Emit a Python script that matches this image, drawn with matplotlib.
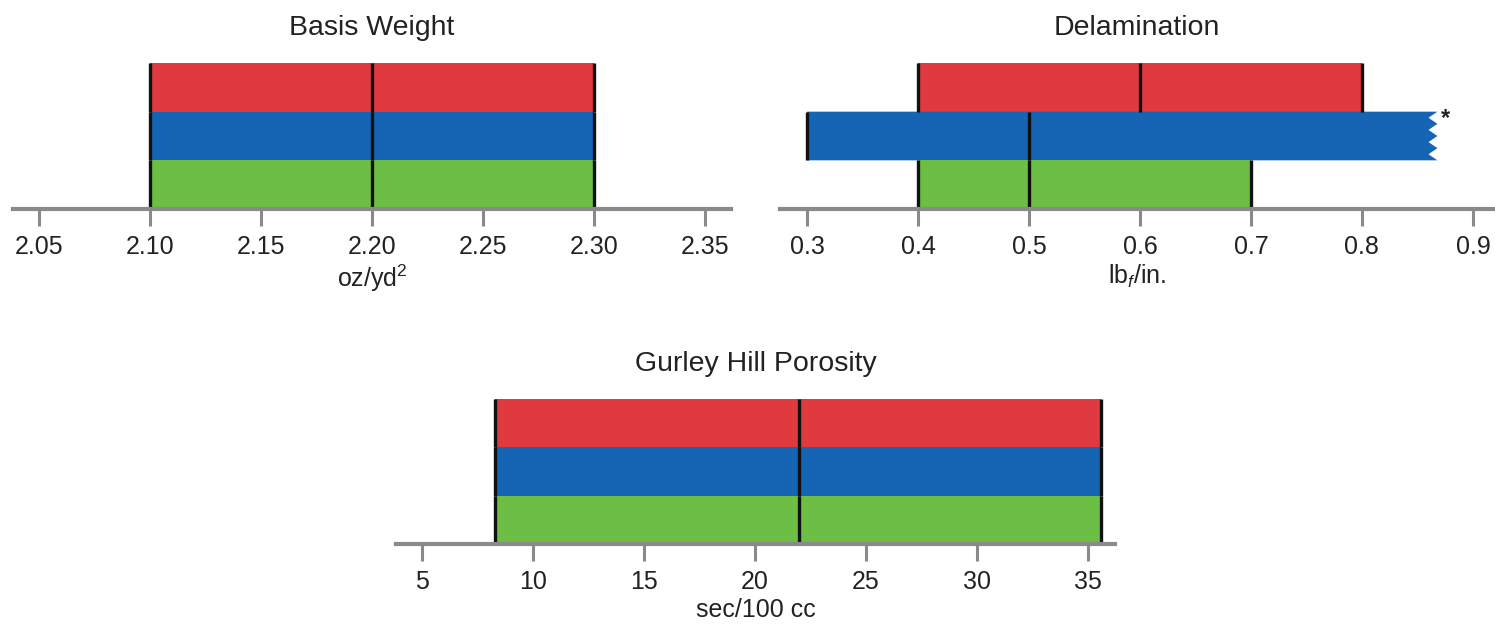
import matplotlib
matplotlib.use("Agg")
import matplotlib.pyplot as plt
from matplotlib.patches import Polygon

plt.rcParams['font.family'] = ['Liberation Sans', 'DejaVu Sans']
plt.rcParams['mathtext.fontset'] = 'custom'
plt.rcParams['mathtext.rm'] = 'Liberation Sans'
plt.rcParams['mathtext.it'] = 'Liberation Sans:italic'

# Series order from top band to bottom band
series_colors = ['#E03A40', '#1565B4', '#6CBF44']

# Basis Weight (oz/yd^2): min, median, max per series
basis_min = [2.10, 2.10, 2.10]
basis_med = [2.20, 2.20, 2.20]
basis_max = [2.30, 2.30, 2.30]
basis_ticks = [2.05, 2.10, 2.15, 2.20, 2.25, 2.30, 2.35]
basis_ticklabels = ['2.05', '2.10', '2.15', '2.20', '2.25', '2.30', '2.35']

# Delamination (lbf/in.); the middle series runs off the scale
delam_min = [0.4, 0.3, 0.4]
delam_med = [0.6, 0.5, 0.5]
delam_max = [0.8, 0.868, 0.7]
delam_cut = [False, True, False]
delam_ticks = [0.3, 0.4, 0.5, 0.6, 0.7, 0.8, 0.9]

# Gurley Hill Porosity (sec/100 cc)
gurley_min = [8.3, 8.3, 8.3]
gurley_med = [22.0, 22.0, 22.0]
gurley_max = [35.6, 35.6, 35.6]
gurley_ticks = [5, 10, 15, 20, 25, 30, 35]

W, H = 1495, 628
fig = plt.figure(figsize=(W / 100, H / 100), dpi=100)

SPINE = '#8a8a8a'
TEXT = '#222222'


def px_axes(x0, x1, ytop, ybot):
    return fig.add_axes([x0 / W, 1 - ybot / H, (x1 - x0) / W, (ybot - ytop) / H])


def range_panel(ax, mins, meds, maxs, cut, xlim, ticks, ticklabels, title, xlabel):
    n = len(mins)
    for i in range(n):
        y0 = n - 1 - i
        color = series_colors[i]
        if cut[i]:
            # saw-tooth end marks a bar truncated at the axis limit
            depth = 0.008
            teeth = 4
            pts = [(mins[i], y0), (maxs[i], y0)]
            for k in range(teeth):
                yb = y0 + k / teeth
                pts.append((maxs[i] - depth, yb + 0.5 / teeth))
                pts.append((maxs[i], yb + 1.0 / teeth))
            pts.append((mins[i], y0 + 1))
            ax.add_patch(Polygon(pts, closed=True, facecolor=color,
                                 edgecolor='none', zorder=2))
            ax.text(maxs[i] + 0.003, y0 + 0.86, '*', fontsize=17,
                    fontweight='bold', ha='left', va='center', color=TEXT)
            edges = [mins[i], meds[i]]
        else:
            ax.barh(y0, maxs[i] - mins[i], left=mins[i], height=1.0,
                    align='edge', color=color, linewidth=0, zorder=2)
            edges = [mins[i], meds[i], maxs[i]]
        ax.vlines(edges, y0, y0 + 1, colors='#111111', linewidth=2.4, zorder=3)

    ax.set_xlim(*xlim)
    ax.set_ylim(0, n)
    for s in ('top', 'right', 'left'):
        ax.spines[s].set_visible(False)
    ax.spines['bottom'].set_color(SPINE)
    ax.spines['bottom'].set_linewidth(3.0)
    ax.spines['bottom'].set_zorder(4)
    ax.set_yticks([])
    ax.set_xticks(ticks)
    if ticklabels is not None:
        ax.set_xticklabels(ticklabels)
    ax.tick_params(axis='x', direction='out', length=12.5, width=2.2,
                   color=SPINE, labelsize=18, labelcolor=TEXT, pad=6)
    ax.set_title(title, fontsize=20.5, color=TEXT, pad=20)
    ax.set_xlabel(xlabel, fontsize=18, color=TEXT, labelpad=3)
    ax.patch.set_alpha(0)


ax1 = px_axes(13, 731, 63, 209)
range_panel(ax1, basis_min, basis_med, basis_max, [False] * 3,
            (2.0383, 2.3617), basis_ticks, basis_ticklabels,
            'Basis Weight', r'oz/yd$^{\mathregular{2}}$')

ax2 = px_axes(780, 1494, 63, 209)
range_panel(ax2, delam_min, delam_med, delam_max, delam_cut,
            (0.2757, 0.9190), delam_ticks, None,
            'Delamination', r'lb$_{\mathit{f}}$/in.')

ax3 = px_axes(396, 1115, 399, 544)
range_panel(ax3, gurley_min, gurley_med, gurley_max, [False] * 3,
            (3.83, 36.22), gurley_ticks, None,
            'Gurley Hill Porosity', 'sec/100 cc')

fig.savefig('out.png', dpi=100, facecolor='white')
